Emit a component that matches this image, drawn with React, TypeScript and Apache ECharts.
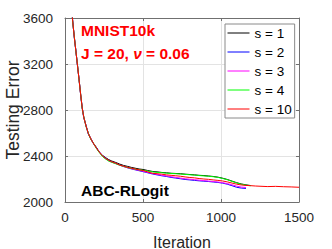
import React, { useEffect, useRef } from "react";
import * as echarts from "echarts";

const ITER = [10,20,30,40,50,60,70,80,90,100,110,120,135,150,165,180,200,220,240,260,280,300,325,350,375,400,425,450,475,500,530,560,590,620,650,680,710,740,770,800,830,860,890,920,950,980,1010,1040,1070,1100,1130,1160,1190,1220,1250,1300,1350,1400,1450,1500];

const S1 = [4905,4495,4105,3715,3565,3425,3315,3185,3070,2935,2825,2735,2665,2590,2555,2512,2478,2432,2406,2386,2369,2356,2344,2330,2318,2310,2301,2294,2287,2283,2274,2266,2262,2257,2254,2250,2248,2246,2242,2239,2236,2232,2230,2226,2222,2216,2207,2196,2182,2168,2157,2149,2143];
const S2 = [4900,4498,4102,3718,3562,3428,3312,3188,3068,2938,2818,2738,2662,2592,2548,2514,2474,2436,2404,2382,2362,2348,2336,2322,2310,2298,2288,2280,2272,2264,2254,2244,2236,2228,2222,2214,2208,2202,2196,2192,2188,2184,2181,2178,2174,2170,2164,2155,2142,2128,2121,2118];
const S3 = [4902,4502,4098,3722,3558,3432,3308,3192,3062,2942,2822,2742,2658,2596,2552,2516,2470,2433,2398,2376,2358,2346,2334,2320,2308,2298,2290,2282,2276,2268,2257,2248,2240,2233,2227,2220,2214,2208,2202,2198,2194,2190,2186,2182,2178,2174,2168,2160,2150,2138,2130,2126];
const S4 = [4895,4505,4095,3725,3555,3435,3305,3195,3060,2945,2815,2745,2655,2598,2545,2518,2468,2430,2396,2374,2356,2345,2333,2320,2310,2300,2292,2286,2280,2276,2269,2262,2258,2255,2251,2248,2246,2243,2240,2237,2234,2230,2227,2224,2220,2214,2205,2194,2180,2166,2155,2147,2141];
const S10 = [4900,4500,4100,3720,3560,3430,3310,3190,3065,2940,2820,2740,2660,2595,2550,2515,2472,2435,2402,2380,2363,2350,2338,2322,2312,2302,2294,2287,2280,2274,2262,2250,2246,2242,2236,2232,2228,2224,2218,2213,2210,2204,2200,2197,2192,2188,2183,2175,2165,2155,2148,2144,2142,2139,2137,2134,2136,2133,2131,2128];

const SERIES_NAMES = ["s = 1", "s = 2", "s = 3", "s = 4", "s = 10"];
const SERIES_VALUES = [S1, S2, S3, S4, S10];
const SERIES_COLORS = ["#000000", "#0000ff", "#ff00ff", "#00ff00", "#ff0000"];

const X_TICKS = [0, 500, 1000, 1500];
const Y_TICKS = [2000, 2400, 2800, 3200, 3600];

const FONT = "'Liberation Sans', Arial, Helvetica, sans-serif";

export default function App() {
  const ref = useRef<HTMLDivElement>(null);
  useEffect(() => {
    if (!ref.current) return;
    const chart = echarts.init(ref.current, undefined, { renderer: "svg" });
    const axisColor = "#707070";
    const xMin = X_TICKS[0], xMax = X_TICKS[X_TICKS.length - 1];
    const yMin = Y_TICKS[0], yMax = Y_TICKS[Y_TICKS.length - 1];
    const xInt = X_TICKS[1] - X_TICKS[0];
    const yInt = Y_TICKS[1] - Y_TICKS[0];
    const plain = (v: number) => String(v);
    chart.setOption({
      animation: false,
      grid: { left: 65, right: 33, top: 18, bottom: 47, containLabel: false, outerBoundsMode: "none" },
      xAxis: [
        {
          type: "value", min: xMin, max: xMax, interval: xInt, position: "bottom",
          name: "Iteration", nameLocation: "middle", nameGap: 32, nameMoveOverlap: false,
          nameTextStyle: { fontFamily: FONT, fontSize: 16, color: "#262626" },
          axisLine: { show: true, onZero: false, lineStyle: { color: axisColor, width: 1 } },
          axisTick: { show: true, inside: true, length: 3, lineStyle: { color: axisColor } },
          axisLabel: { fontFamily: FONT, fontSize: 13.5, color: "#262626", margin: 8, formatter: plain },
          splitLine: { show: true, lineStyle: { color: "#e3e3e3", width: 1 } },
        },
        {
          type: "value", min: xMin, max: xMax, interval: xInt, position: "top",
          axisLine: { show: true, onZero: false, lineStyle: { color: axisColor, width: 1 } },
          axisTick: { show: true, inside: true, length: 3, lineStyle: { color: axisColor } },
          axisLabel: { show: false },
          splitLine: { show: false },
        },
      ],
      yAxis: [
        {
          type: "value", min: yMin, max: yMax, interval: yInt, position: "left",
          name: "Testing Error", nameLocation: "middle", nameGap: 43, nameRotate: 90, nameMoveOverlap: false,
          nameTextStyle: { fontFamily: FONT, fontSize: 17.5, color: "#262626" },
          axisLine: { show: true, onZero: false, lineStyle: { color: axisColor, width: 1 } },
          axisTick: { show: true, inside: true, length: 3, lineStyle: { color: axisColor } },
          axisLabel: { fontFamily: FONT, fontSize: 13.5, color: "#262626", margin: 12, formatter: plain },
          splitLine: { show: true, lineStyle: { color: "#e3e3e3", width: 1 } },
        },
        {
          type: "value", min: yMin, max: yMax, interval: yInt, position: "right",
          axisLine: { show: true, onZero: false, lineStyle: { color: axisColor, width: 1 } },
          axisTick: { show: true, inside: true, length: 3, lineStyle: { color: axisColor } },
          axisLabel: { show: false },
          splitLine: { show: false },
        },
      ],
      legend: {
        orient: "vertical", left: 225, top: 24,
        padding: [2, 3, 2, 2], itemGap: 5, itemWidth: 22, itemHeight: 14,
        backgroundColor: "#ffffff", borderColor: "#8a8a8a", borderWidth: 1,
        itemStyle: { opacity: 0 },
        lineStyle: { width: 1 },
        textStyle: { fontFamily: FONT, fontSize: 13.5, color: "#000000" },
        data: SERIES_NAMES,
      },
      series: SERIES_NAMES.map((name, i) => ({
        name, type: "line", xAxisIndex: 0, yAxisIndex: 0,
        symbol: "none", clip: true, z: 2 + i,
        lineStyle: { color: SERIES_COLORS[i], width: 1 },
        itemStyle: { color: SERIES_COLORS[i] },
        data: SERIES_VALUES[i].map((v, j) => [ITER[j], v]),
      })),
      graphic: [
        { type: "text", left: 81, top: 22, z: 100, style: { text: "MNIST10k", fill: "#ff0000", font: `bold 15.5px ${FONT}` } },
        {
          type: "text", left: 81, top: 45, z: 100,
          style: {
            text: "{a|J = 20, }{b|ν}{a| = 0.06}",
            rich: {
              a: { fill: "#ff0000", font: `bold 15.5px ${FONT}` },
              b: { fill: "#ff0000", font: `italic bold 15.5px ${FONT}` },
            },
          },
        },
        { type: "text", left: 81, top: 182, z: 100, style: { text: "ABC-RLogit", fill: "#000000", font: `bold 15.5px ${FONT}` } },
      ],
    });
    return () => chart.dispose();
  }, []);
  return <div ref={ref} style={{ width: 332, height: 249, position: "absolute", left: 0, top: 0 }} />;
}
